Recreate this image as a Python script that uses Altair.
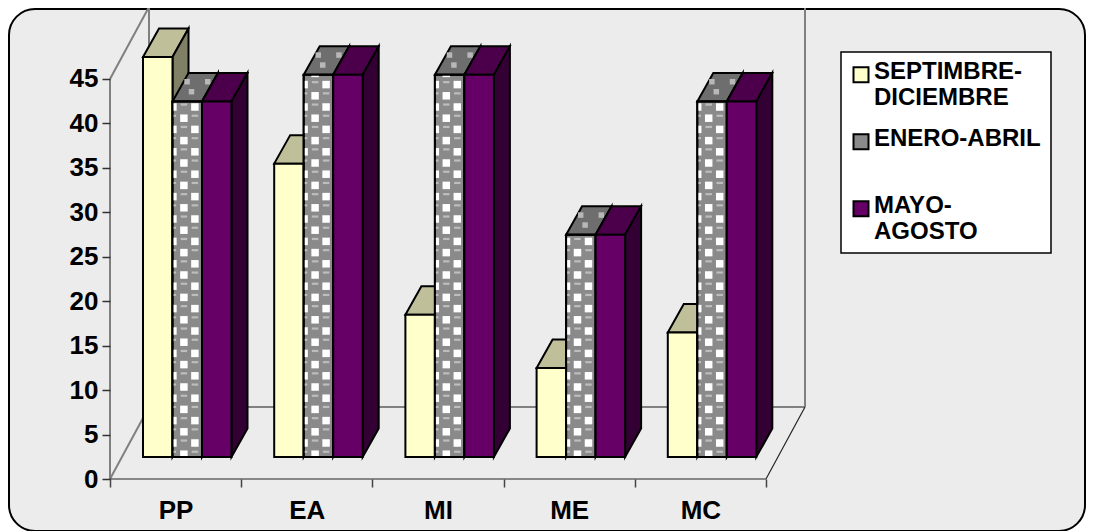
import altair as alt
import pandas as pd

categories = ["PP", "EA", "MI", "ME", "MC"]
series = ["SEPTIMBRE-DICIEMBRE", "ENERO-ABRIL", "MAYO-AGOSTO"]
sep_dic = [45, 33, 16, 10, 14]
ene_abr = [40, 43, 43, 25, 40]
may_ago = [40, 43, 43, 25, 40]
values = [sep_dic, ene_abr, may_ago]
front_colors = ["#FFFFCC", "#8A8A8A", "#660066"]
top_colors = ["#BFBF99", "#6E6E6E", "#4C004C"]
side_colors = ["#808066", "#5A5A5A", "#330033"]
y_ticks = [0, 5, 10, 15, 20, 25, 30, 35, 40, 45]

FONT = "Liberation Sans"
X_PX = 131.2          # pixels per category
Y_PX = 8.89           # pixels per value unit
W, H = 1078, 523
X_DOM = [(8 - 110) / X_PX, (8 + W - 110) / X_PX]
Y_DOM = [(479 - 8 - H) / Y_PX, (479 - 8) / Y_PX]
x_scale = alt.Scale(domain=X_DOM, nice=False, zero=False)
y_scale = alt.Scale(domain=Y_DOM, nice=False, zero=False)

LEAD = 33 / X_PX      # start of first bar in a category
BAR = 29.5 / X_PX     # bar width
DX = 16 / X_PX        # bar depth, horizontally
DY = 28.5 / Y_PX      # bar depth, vertically
BASE = 22 / Y_PX      # floor level of the bars against the axis
WALL_X = 39 / X_PX
WALL_Y = 72 / Y_PX
AXIS_TOP = 45

tick_values = [k / 2 for k in range(11)]
label_js = "[" + ",".join(f"'{c}'" for c in categories) + "]"
x_axis = alt.Axis(
    values=tick_values,
    title=None,
    orient="bottom",
    offset=-52,
    zindex=1,
    grid=False,
    domain=False,
    tickColor="#444444",
    tickSize=8,
    tickWidth=1.5,
    tickOpacity={"condition": {"test": "datum.value % 1 != 0", "value": 0}, "value": 1},
    labelExpr=f"datum.value % 1 != 0 ? {label_js}[floor(datum.value)] : ''",
    labelFont=FONT,
    labelFontWeight="bold",
    labelFontSize=26,
    labelColor="black",
    labelPadding=10,
    labelOverlap=False,
    labelFlush=False,
    labelBound=False,
    labelAngle=0,
)
y_axis = alt.Axis(
    values=y_ticks,
    title=None,
    orient="left",
    offset=-102,
    zindex=1,
    grid=False,
    domain=False,
    tickColor="#333333",
    tickSize=8,
    tickWidth=1.5,
    labelFont=FONT,
    labelFontWeight="bold",
    labelFontSize=26,
    labelColor="black",
    labelPadding=4,
    labelOverlap=False,
    labelBound=False,
)


def X(f="x"):
    return alt.X(f"{f}:Q", scale=x_scale, axis=x_axis)


def Y(f="y"):
    return alt.Y(f"{f}:Q", scale=y_scale, axis=y_axis)


def bar_rows(s):
    for i, cat in enumerate(categories):
        xl = i + LEAD + s * BAR
        yield i, cat, xl, xl + BAR, values[s][i] + BASE


def front_df(s):
    return pd.DataFrame(
        [{"category": c, "series": series[s], "value": values[s][i], "x": xl, "x2": xr, "y": t, "y2": BASE}
         for i, c, xl, xr, t in bar_rows(s)]
    )


def side_df(s):
    rows = []
    for i, c, xl, xr, t in bar_rows(s):
        rows.append({"b": c, "x": xr, "y": t, "y2": BASE})
        rows.append({"b": c, "x": xr + DX, "y": t + DY, "y2": BASE + DY})
    return pd.DataFrame(rows)


def top_df(s):
    rows = []
    for i, c, xl, xr, t in bar_rows(s):
        rows.append({"b": c, "y": t, "x": xl, "x2": xr})
        rows.append({"b": c, "y": t + DY, "x": xl + DX, "x2": xr + DX})
    return pd.DataFrame(rows)


def clipped(xa, xb, ya, yb, xl, xr, t, base):
    xa, xb = max(xa, xl), min(xb, xr)
    ya, yb = max(ya, base), min(yb, t)
    if xa < xb and ya < yb:
        return {"x": xa, "x2": xb, "y": ya, "y2": yb}
    return None


def pattern_dfs(s):
    """Ball-and-check fill of the patterned series: white checks and ball highlights."""
    cw, ch = 11 / X_PX, 11.2 / Y_PX
    wh_w, wh_h = 7.5 / X_PX, 7.5 / Y_PX
    gl_w, gl_h = 6.5 / X_PX, 2.2 / Y_PX
    squares, glints = [], []
    for i, c, xl, xr, t in bar_rows(s):
        k = 0
        while BASE + (k - 0.5) * ch < t:
            cy = BASE + (k + 0.25) * ch
            for col in range(3):
                cx = xl + (0.4 / X_PX) + col * cw
                if (k + col) % 2 == 1:
                    r = clipped(cx - wh_w / 2, cx + wh_w / 2, cy - wh_h / 2, cy + wh_h / 2, xl, xr, t, BASE)
                    if r:
                        squares.append(r)
                else:
                    r = clipped(cx - gl_w / 2, cx + gl_w / 2, cy + ch * 0.12, cy + ch * 0.12 + gl_h, xl, xr, t, BASE)
                    if r:
                        glints.append(r)
            k += 1
    return pd.DataFrame(squares), pd.DataFrame(glints)


def top_checks_df(s):
    spots = [(0.34, 0.46), (0.69, 0.82), (0.69, 0.12)]
    rows = []
    for i, c, xl, xr, t in bar_rows(s):
        for fy, fx in spots:
            rows.append({"x": xl + fy * DX + fx * BAR, "y": t + fy * DY})
    return pd.DataFrame(rows)


one = pd.DataFrame({"a": [0]})

# panel
frame = alt.Chart(one).mark_rect(
    fill="#ECECEC", stroke="black", strokeWidth=2, cornerRadius=26
).encode(x=alt.value(1), x2=alt.value(1077), y=alt.value(1), y2=alt.value(523))

# legend box
legend_box = alt.Chart(one).mark_rect(
    fill="white", stroke="black", strokeWidth=1.5
).encode(x=alt.value(833), x2=alt.value(1043), y=alt.value(44), y2=alt.value(245))

# cage of the 3-D plot
gray_segments = [
    [(0, 0), (0, AXIS_TOP)],
    [(0, AXIS_TOP), (WALL_X, AXIS_TOP + WALL_Y)],
    [(WALL_X, WALL_Y), (WALL_X, AXIS_TOP + WALL_Y)],
    [(5 + WALL_X, WALL_Y), (5 + WALL_X, AXIS_TOP + WALL_Y)],
    [(WALL_X, WALL_Y), (5 + WALL_X, WALL_Y)],
    [(0, 0), (WALL_X, WALL_Y)],
]
gray_df = pd.DataFrame(
    [{"s": k, "o": j, "x": p[0], "y": p[1]} for k, seg in enumerate(gray_segments) for j, p in enumerate(seg)]
)
cage_gray = alt.Chart(gray_df).mark_line(color="#808080", strokeWidth=2).encode(
    x=X(), y=Y(), detail="s:N", order="o:Q"
)
black_df = pd.DataFrame({"x": [0, 5, 5 + WALL_X], "y": [0, 0, WALL_Y], "o": [0, 1, 2]})
cage_black = alt.Chart(black_df).mark_line(color="#222222", strokeWidth=1.2).encode(
    x=X(), y=Y(), order="o:Q"
)

legend = alt.Legend(
    orient="none",
    legendX=838,
    legendY=59,
    title=None,
    padding=0,
    symbolType="M -0.6 -1.575 H 1.4 V 0.425 H -0.6 Z",
    symbolSize=225,
    symbolStrokeColor="black",
    symbolStrokeWidth=2,
    symbolOpacity=1,
    labelFont=FONT,
    labelFontWeight="bold",
    labelFontSize=24,
    labelColor="black",
    labelLimit=400,
    labelBaseline="alphabetic",
    labelExpr="datum.label == 'ENERO-ABRIL' ? datum.label : split(replace(datum.label, '-', '-|'), '|')",
    rowPadding=17,
    gridAlign="all",
)
color = alt.Color(
    "series:N",
    scale=alt.Scale(domain=series, range=front_colors),
    sort=series,
    legend=legend,
)

layers = [frame, legend_box, cage_gray, cage_black]
for s in range(3):
    top = alt.Chart(top_df(s)).mark_area(
        orient="horizontal", fill=top_colors[s], stroke="black", strokeWidth=2, opacity=1
    ).encode(y=Y(), x=X(), x2="x2:Q", detail="b:N")
    side = alt.Chart(side_df(s)).mark_area(
        fill=side_colors[s], stroke="black", strokeWidth=2, opacity=1
    ).encode(x=X(), y=Y(), y2="y2:Q", detail="b:N")
    front = alt.Chart(front_df(s)).mark_rect(stroke="black", strokeWidth=2, opacity=1).encode(
        x=X(), x2="x2:Q", y=Y(), y2="y2:Q", color=color
    )
    layers += [top]
    if s == 1:
        layers += [
            alt.Chart(top_checks_df(s)).mark_point(
                shape="square", filled=True, color="#B8B8B8", size=30, opacity=1
            ).encode(x=X(), y=Y())
        ]
    layers += [side, front]
    if s == 1:
        squares, glints = pattern_dfs(s)
        layers += [
            alt.Chart(squares).mark_rect(fill="white", opacity=1).encode(x=X(), x2="x2:Q", y=Y(), y2="y2:Q"),
            alt.Chart(glints).mark_rect(fill="#BDBDBD", opacity=1).encode(x=X(), x2="x2:Q", y=Y(), y2="y2:Q"),
            alt.Chart(front_df(s)).mark_rect(filled=False, stroke="black", strokeWidth=2, opacity=1).encode(
                x=X(), x2="x2:Q", y=Y(), y2="y2:Q"
            ),
        ]

chart = (
    alt.layer(*layers)
    .properties(
        width=W,
        height=H,
        padding=0,
        autosize=alt.AutoSizeParams(type="none"),
        background="white",
    )
    .configure_view(stroke=None)
)

chart.save("out.html", embed_options={"renderer": "svg", "actions": False})
